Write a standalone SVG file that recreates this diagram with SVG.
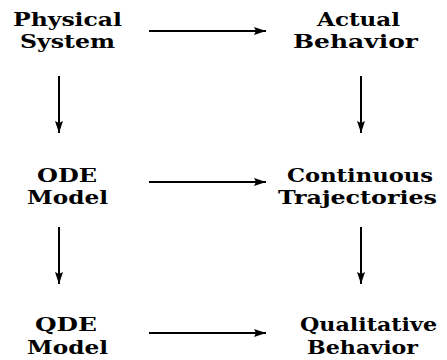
<svg xmlns="http://www.w3.org/2000/svg" width="447" height="360" viewBox="0 0 447 360">
<style>
.t{font-family:"DejaVu Serif","Liberation Serif",serif;font-weight:bold;font-size:19px;fill:#000}
.c{stroke:#000;stroke-width:2;fill:none}
</style>
<defs>
<marker id="ah" viewBox="0 0 12 8" refX="12" refY="4" markerWidth="12" markerHeight="8" orient="auto" markerUnits="userSpaceOnUse">
<path d="M0,0 L12,4 L0,8 L2,4 Z" fill="#000"/>
</marker>
</defs>
<rect width="447" height="360" fill="#fff"/>
<g id="physical-system">
<text class="t" x="13" y="25.5" textLength="109" lengthAdjust="spacingAndGlyphs">Physical</text>
<text class="t" x="20" y="48" textLength="95" lengthAdjust="spacingAndGlyphs">System</text>
</g>
<g id="actual-behavior">
<text class="t" x="317" y="25.5" textLength="83" lengthAdjust="spacingAndGlyphs">Actual</text>
<text class="t" x="293" y="48" textLength="125" lengthAdjust="spacingAndGlyphs">Behavior</text>
</g>
<g id="ode-model">
<text class="t" x="37" y="181.5" textLength="60" lengthAdjust="spacingAndGlyphs">ODE</text>
<text class="t" x="27" y="204" textLength="81" lengthAdjust="spacingAndGlyphs">Model</text>
</g>
<g id="continuous-trajectories">
<text class="t" x="287" y="181.5" textLength="146" lengthAdjust="spacingAndGlyphs">Continuous</text>
<text class="t" x="278" y="204" textLength="159" lengthAdjust="spacingAndGlyphs">Trajectories</text>
</g>
<g id="qde-model">
<text class="t" x="35" y="331" textLength="62" lengthAdjust="spacingAndGlyphs">QDE</text>
<text class="t" x="27" y="353.5" textLength="81" lengthAdjust="spacingAndGlyphs">Model</text>
</g>
<g id="qualitative-behavior">
<text class="t" x="300" y="331" textLength="137" lengthAdjust="spacingAndGlyphs">Qualitative</text>
<text class="t" x="307" y="353.5" textLength="111" lengthAdjust="spacingAndGlyphs">Behavior</text>
</g>
<g id="connectors">
<line class="c" x1="149" y1="31" x2="266" y2="31" marker-end="url(#ah)"/>
<line class="c" x1="149" y1="182" x2="266" y2="182" marker-end="url(#ah)"/>
<line class="c" x1="149" y1="333" x2="266" y2="333" marker-end="url(#ah)"/>
<line class="c" x1="59" y1="76" x2="59" y2="133" marker-end="url(#ah)"/>
<line class="c" x1="361" y1="76" x2="361" y2="133" marker-end="url(#ah)"/>
<line class="c" x1="59" y1="227" x2="59" y2="284" marker-end="url(#ah)"/>
<line class="c" x1="361" y1="227" x2="361" y2="284" marker-end="url(#ah)"/>
</g>
</svg>
